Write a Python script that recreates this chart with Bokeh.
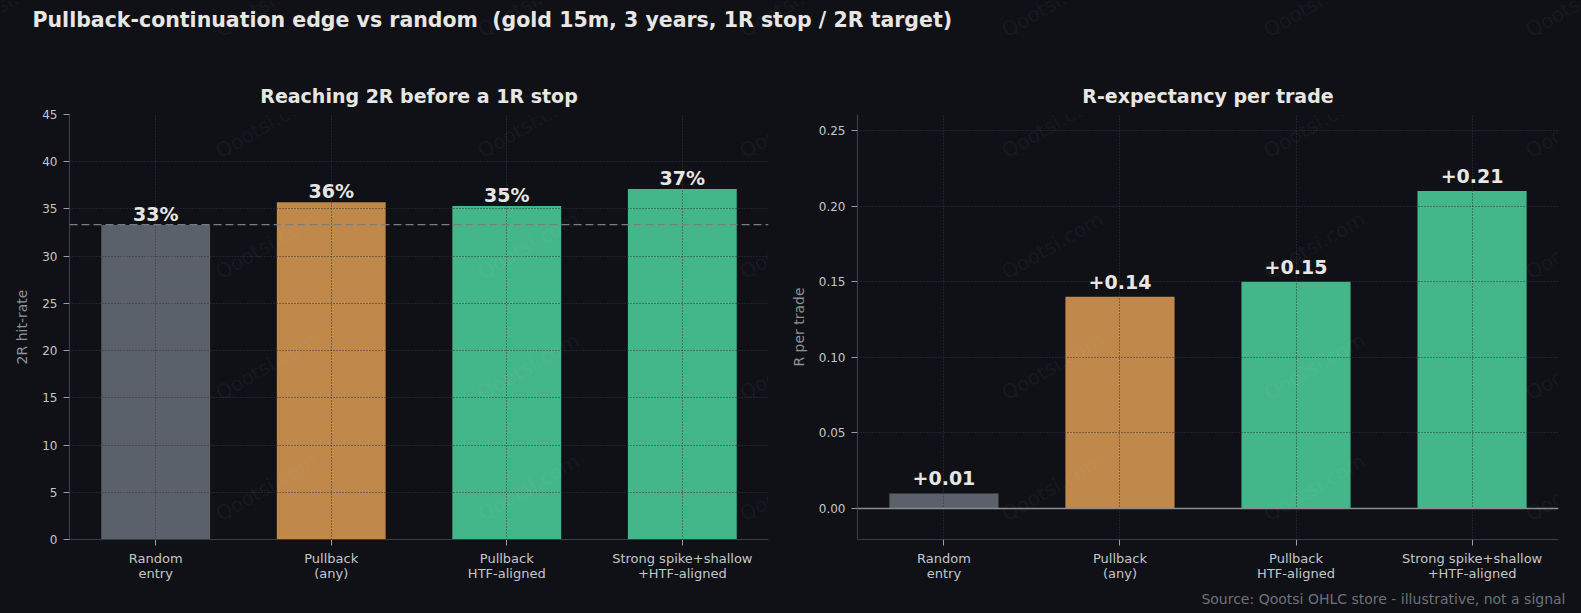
from bokeh.plotting import figure
from bokeh.models import (Range1d, FixedTicker, NumeralTickFormatter,
                          Span, Label, LabelSet, ColumnDataSource, Title)
from bokeh.layouts import column, row
from bokeh.embed import file_html
from bokeh.resources import INLINE
from bokeh.core.properties import value

# ---------------- data ----------------
categories = ["Random\nentry", "Pullback\n(any)", "Pullback\nHTF-aligned",
              "Strong spike+shallow\n+HTF-aligned"]
hit_rate = [33.3, 35.7, 35.3, 37.1]          # % reaching 2R before 1R stop
r_expectancy = [0.01, 0.14, 0.15, 0.21]      # R per trade
random_baseline = 33.33                       # 1-in-3 random expectation
hit_ticks = [0, 5, 10, 15, 20, 25, 30, 35, 40, 45]
r_ticks = [0.0, 0.05, 0.10, 0.15, 0.20, 0.25]

x_pos = list(range(len(categories)))
hit_labels = [f"{v:.0f}%" for v in hit_rate]
r_labels = [f"{v:+.2f}" for v in r_expectancy]

# ---------------- style ----------------
BG = "#0f1117"
TITLE_C = "#e8e6e3"
TICK_C = "#c4c6ca"
AXLABEL_C = "#8e9298"
SPINE_C = "#3a3d44"
GRID_C = "#33373e"
BAR_COLORS = ["#5a616b", "#c0884a", "#44b78a", "#44b78a"]
FONT = "DejaVu Sans"

TOTAL_W, TOTAL_H = 1581, 613
HEAD_H = 45
PANEL_H = TOTAL_H - HEAD_H
FRAME_TOP, FRAME_BOT = 114, 539
TOP_B, BOT_B = FRAME_TOP - HEAD_H, TOTAL_H - FRAME_BOT

P1_W, P1_L, P1_R = 785, 69, 17
P2_W, P2_L, P2_R = TOTAL_W - P1_W, 72, 23

# watermark lattice (page pixels)
WM_TEXT = "Qootsi.com"
wm_cols = [4 + 262 * k for k in range(7)]
wm_rows = [3 + 121 * j for j in range(6)]
WM_HX, WM_HY = 53, 35


def add_watermarks(p, fx0, fy0, fx1, fy1):
    """Watermarks whose box touches the frame (fx0,fy0)-(fx1,fy1) in page px."""
    for cx in wm_cols:
        for cy in wm_rows:
            if cx + WM_HX < fx0 or cx - WM_HX > fx1 or cy + WM_HY < fy0 or cy - WM_HY > fy1:
                continue
            p.add_layout(Label(x=cx - fx0, y=fy1 - cy,
                               x_units="screen", y_units="screen",
                               text=WM_TEXT, angle=30, angle_units="deg",
                               text_align="center", text_baseline="middle",
                               text_font=FONT, text_font_size="20px",
                               text_color="white", text_alpha=0.05))


def make_panel(title, values, labels, y_range, ticks, fmt, ylabel,
               width, left, right):
    p = figure(width=width, height=PANEL_H,
               x_range=Range1d(-0.491, len(categories) - 1 + 0.491), y_range=y_range,
               output_backend="svg", toolbar_location=None,
               min_border_left=left, min_border_right=right,
               min_border_top=TOP_B, min_border_bottom=BOT_B,
               background_fill_color=BG, border_fill_color=BG,
               outline_line_color=None)
    p.title.text = title
    p.title.align = "center"
    p.title.text_font = FONT
    p.title.text_font_size = "19px"
    p.title.text_font_style = "bold"
    p.title.text_color = TITLE_C
    p.title.standoff = 15

    src = ColumnDataSource(dict(x=x_pos, val=values, lab=labels, color=BAR_COLORS))
    p.vbar(x="x", top="val", bottom=0, width=0.62, fill_color="color",
           line_color=None, source=src)

    for g in (p.xgrid, p.ygrid):
        g.grid_line_color = GRID_C
        g.grid_line_dash = "1 2"
        g.grid_line_width = 1
        g.level = "guide"

    p.xaxis.ticker = FixedTicker(ticks=x_pos)
    p.xaxis.major_label_overrides = {i: c for i, c in zip(x_pos, categories)}
    p.yaxis.ticker = FixedTicker(ticks=ticks)
    p.yaxis.formatter = NumeralTickFormatter(format=fmt)
    p.yaxis.axis_label = ylabel
    p.yaxis.axis_label_text_font = FONT
    p.yaxis.axis_label_text_font_style = "normal"
    p.yaxis.axis_label_text_font_size = "14px"
    p.yaxis.axis_label_text_color = AXLABEL_C
    p.yaxis.axis_label_standoff = 9
    for ax in (p.xaxis, p.yaxis):
        ax.axis_line_color = SPINE_C
        ax.axis_line_width = 1.2
        ax.major_tick_line_color = "#9a9da3"
        ax.major_tick_out = 6
        ax.major_tick_in = 0
        ax.minor_tick_line_color = None
        ax.major_label_text_font = FONT
        ax.major_label_text_color = TICK_C
    p.yaxis.major_label_text_font_size = "12px"
    p.yaxis.major_label_standoff = 6
    p.xaxis.major_label_text_font_size = "13px"
    p.xaxis.major_label_standoff = 5
    p.xaxis.major_label_text_line_height = 1.0
    return p, src


def add_value_labels(p, src, gap):
    p.add_layout(LabelSet(x="x", y="val", text="lab", source=src,
                          y_offset=gap, text_align="center",
                          text_baseline="alphabetic",
                          text_font=value(FONT), text_font_size="19px",
                          text_font_style="bold", text_color=TITLE_C))


# ---------------- header ----------------
head = figure(width=TOTAL_W, height=HEAD_H, x_range=Range1d(0, 1), y_range=Range1d(0, 1),
              x_axis_location=None, y_axis_location=None, min_border=0,
              output_backend="svg", toolbar_location=None,
              background_fill_color=BG, border_fill_color=BG, outline_line_color=None)
head.grid.visible = False
add_watermarks(head, 0, 0, TOTAL_W, HEAD_H)
head.add_layout(Label(x=32, y=26, x_units="screen", y_units="screen",
                      text="Pullback-continuation edge vs random\u00a0 (gold 15m, 3 years, 1R stop / 2R target)",
                      text_align="left", text_baseline="alphabetic",
                      text_font=FONT, text_font_size="20.5px", text_font_style="bold",
                      text_color=TITLE_C))

# ---------------- left panel ----------------
p1, src1 = make_panel("Reaching 2R before a 1R stop", hit_rate, hit_labels,
                      Range1d(0, 45), hit_ticks, "0", "2R hit-rate",
                      P1_W, P1_L, P1_R)
add_watermarks(p1, P1_L, FRAME_TOP, P1_W - P1_R, FRAME_BOT)
p1.add_layout(Span(location=random_baseline, dimension="width",
                   line_color="#7a7c80", line_dash="8 4", line_width=1.3))
add_value_labels(p1, src1, 4)

# ---------------- right panel ----------------
p2, src2 = make_panel("R-expectancy per trade", r_expectancy, r_labels,
                      Range1d(-0.0205, 0.2606), r_ticks, "0.00", "R per trade",
                      P2_W, P2_L, P2_R)
add_watermarks(p2, P1_W + P2_L, FRAME_TOP, TOTAL_W - P2_R, FRAME_BOT)
p2.add_layout(Span(location=0, dimension="width", line_color="#8c8c8c",
                   line_width=1.6))
add_value_labels(p2, src2, 8)
p2.add_layout(Title(text="Source: Qootsi OHLC store - illustrative, not a signal",
                    align="right", offset=-7, standoff=11,
                    text_font=FONT, text_font_size="14px", text_font_style="normal",
                    text_color="#6e7178"), "below")

layout = column(head, row(p1, p2, spacing=0), spacing=0)
html = file_html(layout, INLINE, "Pullback-continuation edge vs random")
html = html.replace("<body>", '<body style="margin:0;background:#0f1117;">')
open("out.html", "w").write(html)
